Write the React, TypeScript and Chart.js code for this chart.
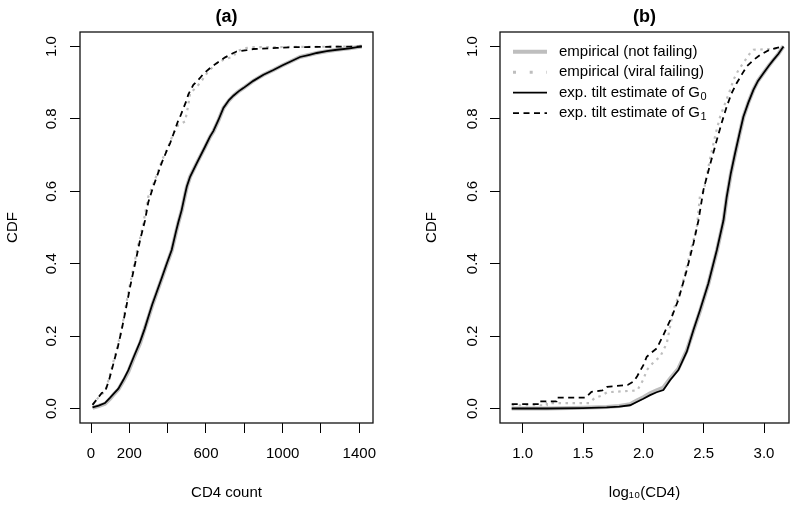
import { useEffect, useRef } from "react";
import { Chart, registerables } from "chart.js";

Chart.register(...registerables);

// ---------- tick values ----------
const yTicks = [0, 0.2, 0.4, 0.6, 0.8, 1.0];
const aTicksX = [0, 200, 400, 600, 800, 1000, 1200, 1400];
const aShownX = [0, 200, 600, 1000, 1400];
const bTicksX = [1.0, 1.5, 2.0, 2.5, 3.0];

// ---------- legend text ----------
const legendMain = ["empirical (not failing)", "empirical (viral failing)", "exp. tilt estimate of G", "exp. tilt estimate of G"];
const legendSub = ["", "", "0", "1"];

// ---------- panel (a): CD4 count ----------
const aG0X = [8, 40, 73, 100, 120, 143, 170, 195, 225, 256, 280, 299, 320, 343, 370, 395, 421, 444, 456, 473, 490, 500, 517, 552, 595, 621, 639, 665, 691, 720, 743, 770, 795, 847, 900, 952, 1000, 1039, 1091, 1140, 1178, 1230, 1283, 1350, 1413];
const aG0Y = [0.003, 0.008, 0.015, 0.03, 0.042, 0.055, 0.08, 0.106, 0.145, 0.184, 0.22, 0.253, 0.288, 0.322, 0.362, 0.40, 0.438, 0.49, 0.515, 0.548, 0.59, 0.613, 0.64, 0.678, 0.723, 0.751, 0.767, 0.797, 0.83, 0.852, 0.864, 0.876, 0.885, 0.905, 0.922, 0.935, 0.948, 0.958, 0.971, 0.977, 0.982, 0.987, 0.991, 0.995, 1.0];

const aEmp0X = [8, 40, 73, 100, 120, 143, 170, 195, 225, 256, 280, 299, 320, 343, 370, 395, 421, 444, 456, 473, 490, 500, 517, 552, 595, 621, 639, 665, 691, 720, 743, 770, 795, 847, 900, 952, 1000, 1039, 1091, 1140, 1178, 1230, 1283, 1350, 1413];
const aEmp0Y = [0.002, 0.007, 0.013, 0.027, 0.04, 0.053, 0.077, 0.102, 0.142, 0.18, 0.22, 0.25, 0.286, 0.32, 0.36, 0.398, 0.436, 0.488, 0.514, 0.546, 0.588, 0.612, 0.64, 0.678, 0.722, 0.75, 0.766, 0.796, 0.83, 0.851, 0.864, 0.876, 0.885, 0.905, 0.922, 0.935, 0.948, 0.958, 0.971, 0.977, 0.982, 0.987, 0.991, 0.995, 1.0];

const aG1X = [8, 30, 56, 73, 95, 117, 140, 160, 182, 204, 230, 256, 265, 282, 299, 325, 343, 370, 404, 413, 435, 456, 465, 500, 508, 534, 569, 586, 620, 656, 700, 743, 760, 813, 847, 969, 1056, 1200, 1413];
const aG1Y = [0.01, 0.025, 0.043, 0.046, 0.08, 0.124, 0.17, 0.217, 0.275, 0.336, 0.40, 0.465, 0.484, 0.52, 0.57, 0.613, 0.64, 0.68, 0.723, 0.733, 0.765, 0.797, 0.806, 0.853, 0.868, 0.894, 0.913, 0.924, 0.94, 0.954, 0.97, 0.982, 0.986, 0.99, 0.993, 0.996, 0.998, 0.999, 1.0];

const aEmp1X = [8, 30, 56, 73, 95, 117, 140, 160, 182, 204, 230, 245, 256, 273, 299, 325, 343, 370, 404, 430, 456, 491, 508, 517, 545, 569, 610, 656, 700, 743, 760, 800, 850, 1413];
const aEmp1Y = [0.01, 0.025, 0.04, 0.046, 0.085, 0.13, 0.175, 0.22, 0.285, 0.345, 0.41, 0.45, 0.47, 0.512, 0.585, 0.62, 0.645, 0.685, 0.725, 0.76, 0.783, 0.793, 0.839, 0.871, 0.885, 0.899, 0.93, 0.954, 0.965, 0.972, 0.986, 0.995, 0.998, 1.0];

// ---------- panel (b): log10(CD4) ----------
const bG0X = [0.909, 1.2, 1.5, 1.696, 1.8, 1.89, 1.945, 2.0, 2.056, 2.11, 2.166, 2.221, 2.29, 2.36, 2.415, 2.47, 2.539, 2.609, 2.664, 2.691, 2.725, 2.76, 2.795, 2.829, 2.87, 2.912, 2.95, 2.995, 3.04, 3.078, 3.12, 3.161];
const bG0Y = [0, 0, 0.001, 0.003, 0.005, 0.009, 0.018, 0.027, 0.037, 0.045, 0.051, 0.078, 0.106, 0.157, 0.217, 0.272, 0.346, 0.438, 0.52, 0.585, 0.65, 0.705, 0.757, 0.806, 0.845, 0.88, 0.905, 0.926, 0.947, 0.963, 0.98, 1.0];

const bEmp0X = [0.909, 1.2, 1.5, 1.696, 1.8, 1.89, 1.945, 2.0, 2.056, 2.11, 2.166, 2.221, 2.29, 2.36, 2.415, 2.47, 2.539, 2.609, 2.664, 2.691, 2.725, 2.76, 2.795, 2.829, 2.87, 2.912, 2.95, 2.995, 3.04, 3.078, 3.12, 3.161];
const bEmp0Y = [0, 0, 0.002, 0.004, 0.007, 0.012, 0.022, 0.031, 0.042, 0.05, 0.058, 0.082, 0.11, 0.16, 0.215, 0.27, 0.345, 0.436, 0.518, 0.583, 0.648, 0.703, 0.755, 0.805, 0.845, 0.88, 0.905, 0.926, 0.947, 0.963, 0.98, 1.0];

const bG1X = [0.909, 1.14, 1.14, 1.28, 1.28, 1.52, 1.57, 1.66, 1.70, 1.87, 1.92, 1.95, 2.0, 2.028, 2.07, 2.111, 2.166, 2.235, 2.29, 2.36, 2.415, 2.457, 2.498, 2.55, 2.609, 2.65, 2.691, 2.73, 2.774, 2.82, 2.857, 2.91, 2.968, 3.04, 3.106, 3.161];
const bG1Y = [0.012, 0.012, 0.02, 0.02, 0.03, 0.03, 0.046, 0.05, 0.06, 0.065, 0.075, 0.09, 0.12, 0.143, 0.155, 0.166, 0.203, 0.253, 0.30, 0.383, 0.456, 0.52, 0.604, 0.67, 0.742, 0.79, 0.834, 0.87, 0.899, 0.925, 0.945, 0.962, 0.977, 0.99, 0.996, 1.0];

const bEmp1X = [0.909, 1.2, 1.2, 1.55, 1.6, 1.65, 1.7, 1.95, 2.0, 2.028, 2.09, 2.139, 2.194, 2.249, 2.318, 2.387, 2.443, 2.47, 2.50, 2.553, 2.60, 2.636, 2.68, 2.719, 2.75, 2.788, 2.84, 2.885, 2.912, 3.07, 3.161];
const bEmp1Y = [0.009, 0.009, 0.015, 0.015, 0.03, 0.035, 0.045, 0.05, 0.08, 0.106, 0.13, 0.143, 0.18, 0.272, 0.336, 0.43, 0.5, 0.59, 0.60, 0.69, 0.76, 0.806, 0.845, 0.88, 0.91, 0.935, 0.96, 0.982, 0.991, 0.993, 1.0];

const FONT = '"Liberation Sans", Arial, Helvetica, sans-serif';
const GRAY = "#bebebe";

const pts = (xs: number[], ys: number[]) => xs.map((x, i) => ({ x, y: ys[i] }));

function makeDatasets(g0x: number[], g0y: number[], g1x: number[], g1y: number[], e1x: number[], e1y: number[], e0x: number[], e0y: number[]) {
  const common = { pointRadius: 0, tension: 0, fill: false };
  return [
    { ...common, label: legendMain[2] + legendSub[2], data: pts(g0x, g0y), borderColor: "#000", borderWidth: 1.8, borderDash: [], legendIndex: 2 },
    { ...common, label: legendMain[3] + legendSub[3], data: pts(g1x, g1y), borderColor: "#000", borderWidth: 1.8, borderDash: [6, 4.5], legendIndex: 3 },
    { ...common, label: legendMain[1], data: pts(e1x, e1y), borderColor: GRAY, borderWidth: 2.2, borderDash: [2.5, 4.5], legendDash: [3, 13.7], legendIndex: 1 },
    { ...common, label: legendMain[0], data: pts(e0x, e0y), borderColor: GRAY, borderWidth: 4, borderDash: [], legendIndex: 0 },
  ];
}

const boxPlugin = {
  id: "rbox",
  afterDatasetsDraw(chart: any) {
    const { ctx, chartArea: a } = chart;
    ctx.save();
    ctx.strokeStyle = "#111";
    ctx.lineWidth = 1.3;
    ctx.strokeRect(a.left, a.top, a.right - a.left, a.bottom - a.top);
    ctx.restore();
  },
};

const legendPlugin = {
  id: "rlegend",
  afterDraw(chart: any) {
    const opts = chart.options.plugins.rlegend;
    if (!opts || !opts.show) return;
    const { ctx, chartArea: a } = chart;
    const x0 = a.left + 13;
    const lineLen = 34;
    const textX = a.left + 59;
    const sets = chart.data.datasets.slice().sort((p: any, q: any) => p.legendIndex - q.legendIndex);
    ctx.save();
    sets.forEach((ds: any, i: number) => {
      const y = a.top + 19.7 + i * 20.5;
      ctx.beginPath();
      ctx.strokeStyle = ds.borderColor;
      ctx.lineWidth = ds.legendDash ? 3 : ds.borderWidth;
      ctx.setLineDash(ds.legendDash || ds.borderDash || []);
      ctx.lineCap = "butt";
      ctx.moveTo(x0, y);
      ctx.lineTo(x0 + lineLen, y);
      ctx.stroke();
      ctx.setLineDash([]);
      ctx.fillStyle = "#000";
      ctx.textBaseline = "middle";
      ctx.textAlign = "left";
      ctx.font = `15px ${FONT}`;
      const main = legendMain[ds.legendIndex];
      const sub = legendSub[ds.legendIndex];
      ctx.fillText(main, textX, y);
      if (sub) {
        const w = ctx.measureText(main).width;
        ctx.font = `11px ${FONT}`;
        ctx.fillText(sub, textX + w + 0.5, y + 4);
      }
    });
    ctx.restore();
  },
};

function buildConfig(p: any): any {
  const font = { family: FONT, size: 15 };
  const grid = { display: true, drawOnChartArea: false, drawTicks: true, tickLength: 10, color: "#000", lineWidth: 1 };
  return {
    type: "line",
    data: { datasets: p.datasets },
    plugins: [boxPlugin, legendPlugin],
    options: {
      animation: false,
      responsive: false,
      devicePixelRatio: 1,
      layout: { padding: { left: p.padLeft, right: p.padRight, top: 0, bottom: 0 } },
      plugins: {
        legend: { display: false },
        tooltip: { enabled: false },
        title: {
          display: true,
          text: p.title,
          fullSize: false,
          color: "#000",
          font: { family: FONT, size: 18, weight: "bold", lineHeight: 1.2 },
          padding: { top: 6, bottom: 4.4 },
        },
        rlegend: { show: p.legend },
      },
      scales: {
        x: {
          type: "linear",
          min: p.xMin,
          max: p.xMax,
          afterBuildTicks: (s: any) => {
            s.ticks = p.xTicks.map((v: number) => ({ value: v }));
          },
          afterFit: (s: any) => {
            s.height = 84;
          },
          ticks: { autoSkip: false, minRotation: 0, maxRotation: 0, padding: 12, color: "#000", font, callback: (v: any) => p.xLabel(Number(v)) },
          grid,
          border: { display: false },
          title: { display: true, text: p.xTitle, color: "#000", font, padding: { top: 0, bottom: 5 } },
        },
        y: {
          type: "linear",
          min: -0.04,
          max: 1.04,
          afterBuildTicks: (s: any) => {
            s.ticks = yTicks.map((v) => ({ value: v }));
          },
          afterFit: (s: any) => {
            s.width = 80;
          },
          ticks: { autoSkip: false, minRotation: 90, maxRotation: 90, crossAlign: "center", padding: p.yTickPad, color: "#000", font, callback: (v: any) => Number(v).toFixed(1) },
          grid,
          border: { display: false },
          title: { display: true, text: "CDF", color: "#000", font, padding: { top: p.yTitlePad, bottom: 0 } },
        },
      },
    },
  };
}

export default function App() {
  const refA = useRef<HTMLCanvasElement>(null);
  const refB = useRef<HTMLCanvasElement>(null);

  useEffect(() => {
    const chartA = new Chart(
      refA.current as HTMLCanvasElement,
      buildConfig({
        title: "(a)",
        xTitle: "CD4 count",
        xMin: -57.4,
        xMax: 1471.5,
        xTicks: aTicksX,
        xLabel: (v: number) => (aShownX.includes(v) ? String(v) : ""),
        padLeft: 0,
        padRight: 27,
        yTickPad: 8,
        yTitlePad: 4,
        legend: false,
        datasets: makeDatasets(aG0X, aG0Y, aG1X, aG1Y, aEmp1X, aEmp1Y, aEmp0X, aEmp0Y),
      })
    );
    const chartB = new Chart(
      refB.current as HTMLCanvasElement,
      buildConfig({
        title: "(b)",
        xTitle: "log\u2081\u2080(CD4)",
        xMin: 0.812,
        xMax: 3.207,
        xTicks: bTicksX,
        xLabel: (v: number) => v.toFixed(1),
        padLeft: 20,
        padRight: 11,
        yTickPad: 7,
        yTitlePad: 3,
        legend: true,
        datasets: makeDatasets(bG0X, bG0Y, bG1X, bG1Y, bEmp1X, bEmp1Y, bEmp0X, bEmp0Y),
      })
    );
    return () => {
      chartA.destroy();
      chartB.destroy();
    };
  }, []);

  return (
    <div style={{ position: "fixed", left: 0, top: 0, width: 800, height: 507, background: "#fff" }}>
      <canvas ref={refA} width={400} height={507} style={{ position: "absolute", left: 0, top: 0, width: 400, height: 507 }} />
      <canvas ref={refB} width={400} height={507} style={{ position: "absolute", left: 400, top: 0, width: 400, height: 507 }} />
    </div>
  );
}
